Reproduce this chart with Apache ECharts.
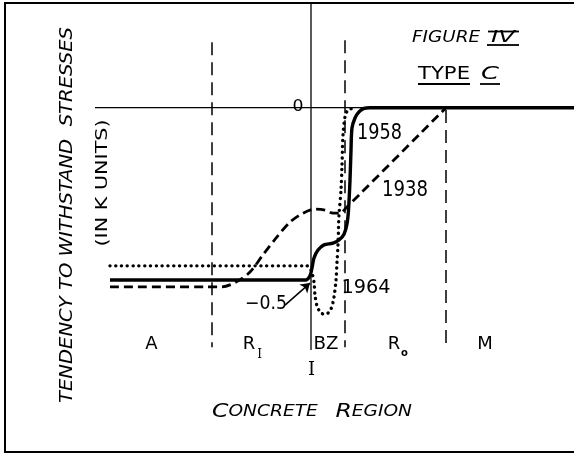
<!DOCTYPE html>
<html>
<head>
<meta charset="utf-8">
<script src="https://cdn.jsdelivr.net/npm/echarts@6/dist/echarts.min.js"></script>
<style>
  html, body { margin: 0; padding: 0; background: #fff; }
  #main { width: 574px; height: 455px; }
</style>
</head>
<body>
<div id="main"></div>
<script>
// x in region units (interface I at 0), y in K units
var curve1958 = [[-2.01, -0.5], [-0.05, -0.5], [-0.01, -0.488], [0.01, -0.465], [0.03, -0.436], [0.07, -0.413],
  [0.13, -0.398], [0.22, -0.393], [0.28, -0.384], [0.33, -0.367], [0.36, -0.337], [0.375, -0.297], [0.39, -0.21],
  [0.40, -0.123], [0.41, -0.059], [0.44, -0.03], [0.48, -0.012], [0.53, -0.002], [0.59, 0], [2.63, 0]]
var curve1938 = [[-2.01, -0.52], [-0.89, -0.52], [-0.75, -0.506], [-0.61, -0.477], [-0.48, -0.427], [-0.34, -0.375],
  [-0.21, -0.332], [-0.08, -0.306], [0.04, -0.294], [0.14, -0.297], [0.22, -0.306], [0.29, -0.306], [0.35, -0.291], [1.35, 0]]
var curve1964 = [[-2.01, -0.459], [-0.04, -0.459], [0.0, -0.471], [0.03, -0.506], [0.04, -0.544], [0.06, -0.575],
  [0.10, -0.596], [0.15, -0.599], [0.20, -0.584], [0.23, -0.549], [0.25, -0.5], [0.26, -0.448], [0.27, -0.398],
  [0.28, -0.311], [0.30, -0.239], [0.31, -0.166], [0.32, -0.079], [0.34, -0.027], [0.37, -0.007], [0.44, 0]]
var zeroAxis = [[-2.16, 0], [2.63, 0]]
var interfaceAxis = [[0, 0.304], [0, -0.703]]
var boundaryX = [-0.99, 0.34, 1.35]
var boundaryTop = [0.19, 0.196, -0.007]
var boundaryBottom = [-0.695, -0.695, -0.683]
var arrowFrom = [-0.26, -0.573]
var arrowTo = [-0.01, -0.509]

var chart = echarts.init(document.getElementById('main'))
var ctx = document.createElement('canvas').getContext('2d')
var SANS = '"DejaVu Sans"'
var INK = '#000'

function measure (str, font) {
  ctx.font = font
  return ctx.measureText(str).width
}
function txt (str, x, y, font, width, extra) {
  var el = {
    type: 'text',
    x: x,
    y: y,
    silent: true,
    style: { text: str, font: font, fill: INK, align: 'center', verticalAlign: 'middle' }
  }
  if (width) el.scaleX = width / measure(str, font)
  if (extra) Object.assign(el, extra)
  return el
}
function seg (x1, y1, x2, y2, w) {
  return { type: 'line', silent: true, shape: { x1: x1, y1: y1, x2: x2, y2: y2 }, style: { stroke: INK, lineWidth: w || 1.5 } }
}

var series = []
series.push({ type: 'line', data: zeroAxis, symbol: 'none', silent: true, lineStyle: { color: INK, width: 1.3 }, z: 2 })
series.push({ type: 'line', data: interfaceAxis, symbol: 'none', silent: true, lineStyle: { color: INK, width: 1.3 }, z: 2 })
for (var i = 0; i < boundaryX.length; i++) {
  series.push({
    type: 'line',
    data: [[boundaryX[i], boundaryTop[i]], [boundaryX[i], boundaryBottom[i]]],
    symbol: 'none',
    silent: true,
    lineStyle: { color: INK, width: 1.5, type: [13, 7] },
    z: 2
  })
}
series.push({
  name: '1938', type: 'line', data: curve1938, symbol: 'none', smooth: 0.3, silent: true,
  lineStyle: { color: INK, width: 2.8, type: [9, 5] }, z: 3
})
series.push({
  name: '1964', type: 'line', data: curve1964, symbol: 'none', smooth: 0.3, silent: true,
  lineStyle: { color: INK, width: 3.4, type: [0.1, 5.7], cap: 'round' }, z: 3
})
series.push({
  name: '1958', type: 'line', data: curve1958, symbol: 'none', smooth: 0.3, silent: true,
  lineStyle: { color: INK, width: 3.4 }, z: 4,
  markLine: {
    silent: true,
    symbol: ['none', 'arrow'],
    symbolSize: 9,
    label: { show: false },
    lineStyle: { color: INK, width: 1.5, type: 'solid' },
    data: [[{ coord: arrowFrom }, { coord: arrowTo }]]
  }
})

var rich = {
  big: { font: 'italic 19px ' + SANS, fill: INK },
  sm: { font: 'italic 15px ' + SANS, fill: INK }
}
var concreteW = measure('C', rich.big.font) * 2 + measure('ONCRETE   EGION', rich.sm.font)

var graphics = [
  { type: 'polyline', silent: true, shape: { points: [[574, 3], [5, 3], [5, 452], [574, 452]] }, style: { stroke: INK, lineWidth: 2, fill: null } },
  txt('TENDENCY TO WITHSTAND  STRESSES', 68, 215, 'italic 17px ' + SANS, 376, { rotation: Math.PI / 2 }),
  txt('(IN K UNITS)', 103, 183, '15px ' + SANS, 127, { rotation: Math.PI / 2 }),
  txt('FIGURE', 446, 38, 'italic 15px ' + SANS, 68),
  txt('IV', 503, 38.5, 'italic 15px ' + SANS, 24),
  seg(488, 31.5, 519, 31.5, 1.8),
  seg(487, 45, 519, 45, 1.8),
  txt('TYPE', 444, 75, '17px ' + SANS, 52),
  txt('C', 490, 75, 'italic 17px ' + SANS, 18),
  seg(418, 84, 470, 84, 1.8),
  seg(480, 84, 500, 84, 1.8),
  txt('0', 298, 107.5, '15px ' + SANS, 11),
  txt('1958', 379.5, 133.5, '21px ' + SANS, 45),
  txt('1938', 405, 190.5, '21px ' + SANS, 46),
  txt('1964', 366, 287.5, '20px ' + SANS, 49),
  txt('\u22120.5', 266, 304.5, '19px ' + SANS, 42),
  txt('A', 151.5, 344, '18px ' + SANS),
  txt('R', 249, 344, '18px ' + SANS),
  txt('I', 259.5, 355, '12px "DejaVu Serif"'),
  txt('BZ', 326, 344, '18px ' + SANS, 25),
  txt('R', 394, 344, '18px ' + SANS),
  txt('o', 404.5, 353.5, 'bold 10px ' + SANS),
  txt('M', 485, 344, '18px ' + SANS),
  txt('I', 311.5, 370, '18px "DejaVu Serif"'),
  {
    type: 'text', x: 312, y: 412, silent: true, scaleX: 200 / concreteW,
    style: { text: '{big|C}{sm|ONCRETE   }{big|R}{sm|EGION}', rich: rich, align: 'center', verticalAlign: 'middle' }
  }
]

chart.setOption({
  animation: false,
  backgroundColor: '#fff',
  grid: { left: 0, right: 0, top: 0, bottom: 0 },
  xAxis: { type: 'value', min: -3.11, max: 2.63, show: false },
  yAxis: { type: 'value', min: -1.0078, max: 0.3125, show: false },
  series: series,
  graphic: graphics
})
</script>
</body>
</html>
